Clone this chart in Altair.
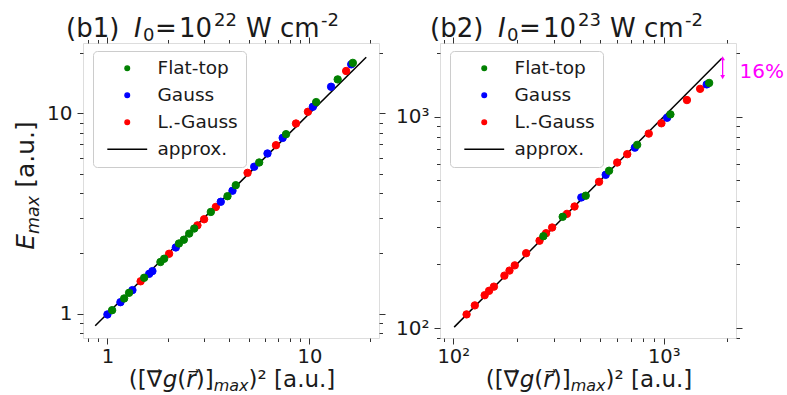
import altair as alt
import pandas as pd

SERIES = ["Flat-top", "Gauss", "L.-Gauss", "approx."]
COLORS = ["#008000", "#0000ff", "#ff0000", "#000000"]
FILLS = ["#008000", "#0000ff", "#ff0000", "transparent"]
SHAPES = ["circle", "circle", "circle", "M-8.5,0L8.5,0"]
MAG = "#ff00ff"
FONT = "DejaVu Sans"
TXT = "#1a1a1a"

# ---------------- panel (b1): I0 = 1e22 W cm^-2 ----------------
b1_flat_x = [1.055, 1.21, 1.28, 1.52, 1.83, 1.91, 2.26, 2.39, 2.54, 2.69, 3.25, 3.93, 4.32, 5.64, 7.66, 10.8, 13.8, 16.4]
b1_flat_y = [1.04, 1.19, 1.27, 1.51, 1.81, 1.88, 2.24, 2.34, 2.51, 2.66, 3.22, 3.86, 4.38, 5.69, 7.88, 11.4, 14.8, 17.9]
b1_gauss_x = [1.00, 1.16, 1.33, 1.61, 1.67, 2.18, 3.64, 4.16, 5.33, 6.20, 7.37, 10.4, 12.8, 16.1]
b1_gauss_y = [0.99, 1.14, 1.31, 1.58, 1.63, 2.14, 3.62, 4.11, 5.42, 6.31, 7.55, 10.8, 13.6, 17.6]
b1_lg_x = [1.46, 2.02, 2.79, 3.01, 3.44, 4.94, 6.83, 8.58, 9.83, 15.2]
b1_lg_y = [1.45, 1.99, 2.76, 2.96, 3.41, 5.05, 6.94, 8.91, 10.2, 16.3]
b1_line_x = [0.87, 19.1]
b1_line_y = [0.87, 19.1]
b1_xdomain = [0.757, 22.1]
b1_ydomain = [0.755, 22.5]
b1_ticks = [0.8, 0.9, 1, 2, 3, 4, 5, 6, 7, 8, 9, 10, 20]
b1_major = [1, 10]

# ---------------- panel (b2): I0 = 1e23 W cm^-2 ----------------
b2_flat_x = [268, 331, 426, 550, 748, 1076, 1644]
b2_flat_y = [272, 336, 423, 555, 736, 1026, 1445]
b2_gauss_x = [406, 530, 729, 1038, 1601]
b2_gauss_y = [415, 531, 714, 989, 1422]
b2_lg_x = [115.7, 126.6, 141, 148, 156, 175, 185, 196, 222, 257, 276, 295, 347, 377, 493, 601, 671, 849, 975, 1289, 1489]
b2_lg_y = [116, 128, 143, 150, 157, 177, 187, 198, 226, 259, 281, 299, 347, 376, 492, 607, 665, 832, 931, 1199, 1355]
b2_line_x = [101, 1890]
b2_line_y = [101, 1890]
b2_xdomain = [86.5, 2205]
b2_ydomain = [89.7, 2233]
b2_ticks = [90, 100, 200, 300, 400, 500, 600, 700, 800, 900, 1000, 2000]
b2_major = [100, 1000]
b2_arrow_x = [1905]
b2_arrow_top = [1890]
b2_arrow_bottom = [1540]
b2_note_x = [2290]
b2_note_y = [1633]
b2_note_text = ["16%"]

# axis-title pieces: (text, italic, subscript, gap-before in em)
XTITLE_PARTS = [("([\u2207\u20d7", False, False, 0), ("g", True, False, 0), ("(", False, False, 0),
                ("r\u20d7", True, False, 0), (")]", False, False, 0), ("max", True, True, 0),
                (")\u00b2", False, False, 0), ("[a.u.]", False, False, .318)]
YTITLE_PARTS = [("E", True, False, 0), ("max", True, True, 0), ("[a.u.]", False, False, .318)]

DUMMY = alt.Data(values=[{"a": 1}])

# DejaVu Sans advance widths (em)
ADV = {"(": .390, ")": .390, "[": .390, "]": .390, "\u2207": .70, "\u20d7": 0.0, "g": .635,
       "r": .411, "m": .974, "a": .613, "x": .592, "\u00b2": .401, " ": .318, ".": .318,
       "u": .634, "E": .632}


def adv(s, size):
    return sum(ADV.get(c, .6) for c in s) * size


def points_df(fx, fy, gx, gy, lx, ly):
    rows = []
    for xs, ys, name in [(lx, ly, "L.-Gauss"), (gx, gy, "Gauss"), (fx, fy, "Flat-top")]:
        for a, b in zip(xs, ys):
            rows.append({"x": a, "y": b, "series": name})
    return pd.DataFrame(rows)


def text_piece(s, x, y, size, italic=False, angle=0):
    kw = dict(text=s, font=FONT, fontSize=size, align="left", baseline="alphabetic", color=TXT)
    if italic:
        kw["fontStyle"] = "italic"
    if angle:
        kw["angle"] = angle
    return alt.Chart(DUMMY).mark_text(**kw).encode(x=alt.value(x), y=alt.value(y))


def layout_parts(parts, size, sub):
    sizes = [sub if s else size for _, _, s, _ in parts]
    offs, pos = [], 0.0
    for (t, _, _, gap), z in zip(parts, sizes):
        pos += gap * size
        offs.append(pos)
        pos += adv(t, z)
    return sizes, offs, pos


def x_title(cx, base, size, sub):
    sizes, offs, total = layout_parts(XTITLE_PARTS, size, sub)
    x0 = cx - total / 2
    return [text_piece(t, x0 + o, base + (4 if s else 0), z, italic=it)
            for (t, it, s, _), z, o in zip(XTITLE_PARTS, sizes, offs)]


def y_title(cy, base, size, sub):
    sizes, offs, total = layout_parts(YTITLE_PARTS, size, sub)
    y0 = cy + total / 2
    return [text_piece(t, base + (5 if s else 0), y0 - o, z, italic=it, angle=270)
            for (t, it, s, _), z, o in zip(YTITLE_PARTS, sizes, offs)]


def panel(pts, line, xdom, ydom, ticks, majors, label_expr, tag, exponent, dx, with_ytitle=False, extra=None):
    W, H = 296, 295
    xs = alt.Scale(type="log", domain=xdom, nice=False)
    ys = alt.Scale(type="log", domain=ydom, nice=False)
    test = " || ".join(f"datum.value == {m}" for m in majors)
    tsize = {"condition": {"test": test, "value": 6}, "value": 3.5}
    common = dict(values=ticks, grid=False, domain=False, tickColor="#333333", tickWidth=1, tickSize=tsize, title=None)
    lab = dict(labelExpr=label_expr, labelFont=FONT, labelColor=TXT,
               labelFlush=False, labelOverlap=False)
    xa = alt.Axis(orient="bottom", labelPadding=3, labelFontSize=19.5, **lab, **common)
    ya = alt.Axis(orient="left", labelPadding=5, labelFontSize=20, **lab, **common)

    leg = alt.Legend(title=None, orient="none", legendX=10, legendY=8, fillColor="white",
                     strokeColor="#cccccc", cornerRadius=4, padding=8, labelFont=FONT,
                     labelFontSize=18.5, labelColor=TXT, symbolSize=22, symbolStrokeWidth=1.3,
                     symbolOffset=17, labelOffset=21, rowPadding=8, labelLimit=200)
    fill_s = alt.Scale(domain=SERIES, range=FILLS)
    stroke_s = alt.Scale(domain=SERIES, range=COLORS)
    shape_s = alt.Scale(domain=SERIES, range=SHAPES)

    pts_layer = alt.Chart(pts).mark_point(filled=True, size=55, opacity=1, strokeWidth=1).encode(
        x=alt.X("x:Q", scale=xs, axis=xa),
        y=alt.Y("y:Q", scale=ys, axis=ya),
        fill=alt.Fill("series:N", scale=fill_s, legend=leg),
        stroke=alt.Stroke("series:N", scale=stroke_s, legend=leg),
        shape=alt.Shape("series:N", scale=shape_s, legend=leg),
    )
    line_layer = alt.Chart(line).mark_line(strokeWidth=1.5).encode(
        x=alt.X("x:Q", scale=xs, axis=None),
        y=alt.Y("y:Q", scale=ys, axis=None),
        stroke=alt.Stroke("series:N", scale=stroke_s, legend=leg),
    )
    frame = alt.Chart(line).mark_point(opacity=0).encode(
        x=alt.X("x:Q", scale=xs, axis=alt.Axis(orient="top", labels=False, **common)),
        y=alt.Y("y:Q", scale=ys, axis=alt.Axis(orient="right", labels=False, **common)),
    )
    titles = [
        text_piece(tag, -24 + dx, -6, 26),
        text_piece("I", 44 + dx, -6, 26, italic=True),
        text_piece("0", 53 + dx, -2, 18),
        text_piece("=", 65 + dx, -6, 26),
        text_piece("10", 89 + dx, -6, 26),
        text_piece(exponent, 124 + dx, -17, 18),
        text_piece("W cm", 156 + dx, -6, 26),
        text_piece("-2", 231 + dx, -17, 18),
    ]
    layers = [line_layer, pts_layer, frame] + titles + x_title(W / 2 + 1, H + 49, 23, 16)
    if with_ytitle:
        layers += y_title(H / 2 - 5, -49, 25, 17.5)
    if extra is not None:
        layers += extra(xs, ys)
    return alt.layer(*layers).resolve_axis(x="independent", y="independent").properties(width=W, height=H)


def b2_annotation(xs, ys):
    arrow = pd.DataFrame({"x": b2_arrow_x, "top": b2_arrow_top, "bottom": b2_arrow_bottom})
    note = pd.DataFrame({"x": b2_note_x, "y": b2_note_y, "t": b2_note_text})
    rule = alt.Chart(arrow).mark_rule(color=MAG, strokeWidth=1.3).encode(
        x=alt.X("x:Q", scale=xs, axis=None), y=alt.Y("top:Q", scale=ys, axis=None), y2="bottom:Q")
    head_up = alt.Chart(arrow).mark_point(shape="triangle-up", filled=True, size=22, color=MAG, opacity=1).encode(
        x=alt.X("x:Q", scale=xs, axis=None), y=alt.Y("top:Q", scale=ys, axis=None))
    head_dn = alt.Chart(arrow).mark_point(shape="triangle-down", filled=True, size=22, color=MAG, opacity=1).encode(
        x=alt.X("x:Q", scale=xs, axis=None), y=alt.Y("bottom:Q", scale=ys, axis=None))
    txt = alt.Chart(note).mark_text(font=FONT, fontSize=20, color=MAG, align="left", baseline="middle").encode(
        x=alt.X("x:Q", scale=xs, axis=None), y=alt.Y("y:Q", scale=ys, axis=None), text="t:N")
    return [rule, head_up, head_dn, txt]


b1_pts = points_df(b1_flat_x, b1_flat_y, b1_gauss_x, b1_gauss_y, b1_lg_x, b1_lg_y)
b2_pts = points_df(b2_flat_x, b2_flat_y, b2_gauss_x, b2_gauss_y, b2_lg_x, b2_lg_y)
b1_line = pd.DataFrame({"x": b1_line_x, "y": b1_line_y, "series": "approx."})
b2_line = pd.DataFrame({"x": b2_line_x, "y": b2_line_y, "series": "approx."})

left = panel(b1_pts, b1_line, b1_xdomain, b1_ydomain, b1_ticks, b1_major,
             "datum.value == 1 ? '1' : (datum.value == 10 ? '10' : '')",
             "(b1)", "22", 7, with_ytitle=True)
right = panel(b2_pts, b2_line, b2_xdomain, b2_ydomain, b2_ticks, b2_major,
              "datum.value == 100 ? '10\u00b2' : (datum.value == 1000 ? '10\u00b3' : '')",
              "(b2)", "23", 14, extra=b2_annotation)

chart = alt.hconcat(left, right, spacing=9, padding={"left": 13, "top": 11, "right": 0, "bottom": 0}).resolve_scale(
    fill="independent", stroke="independent", shape="independent"
).resolve_legend(
    fill="independent", stroke="independent", shape="independent"
).configure_view(stroke="#333333", strokeWidth=1).configure(background="white")

chart.save("out.html", embed_options={"renderer": "svg", "actions": False})
